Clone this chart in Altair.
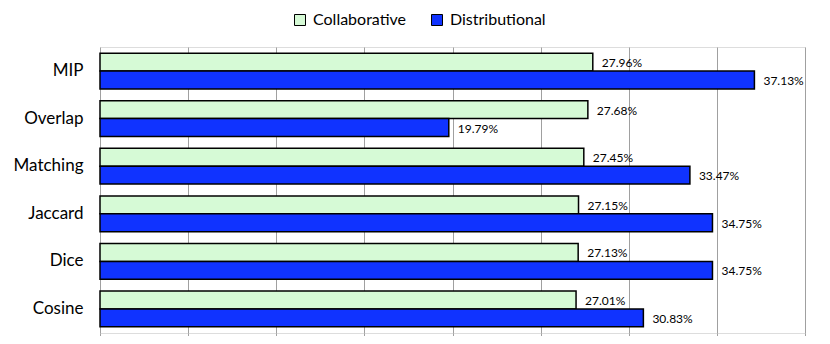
import altair as alt
import pandas as pd

categories = ["MIP", "Overlap", "Matching", "Jaccard", "Dice", "Cosine"]
collaborative = [27.96, 27.68, 27.45, 27.15, 27.13, 27.01]
distributional = [37.13, 19.79, 33.47, 34.75, 34.75, 30.83]
series = ["Collaborative", "Distributional"]
colors = ["#d6fad6", "#1033ff"]

rows = []
for c, a, b in zip(categories, collaborative, distributional):
    rows.append({"cat": c, "series": series[0], "value": a})
    rows.append({"cat": c, "series": series[1], "value": b})
df = pd.DataFrame(rows)

FONT = "Lato"

y_enc = alt.Y("cat:N", sort=categories, title=None,
              scale=alt.Scale(paddingInner=0.25, paddingOuter=0.13),
              axis=alt.Axis(labelFontSize=17, labelFont=FONT, labelColor="black",
                            labelPadding=17, ticks=False, domain=False, grid=False))
yoff = alt.YOffset("series:N", sort=series)

x_enc = alt.X("value:Q", title=None,
              scale=alt.Scale(domain=[0, 40], nice=False),
              axis=alt.Axis(values=[0, 5, 10, 15, 20, 25, 30, 35, 40], labels=False,
                            ticks=True, tickSize=4, tickColor="#a0a0a0",
                            domain=False, grid=True, gridColor="#a0a0a0",
                            gridWidth=1))

bars = alt.Chart(df).mark_bar(stroke="black", strokeWidth=1.5).encode(
    y=y_enc,
    yOffset=yoff,
    x=x_enc,
    color=alt.Color("series:N", sort=series,
                    scale=alt.Scale(domain=series, range=colors),
                    legend=alt.Legend(title=None, orient="none", direction="horizontal",
                                      legendX=192, legendY=-35,
                                      symbolType="square", symbolSize=121,
                                      symbolStrokeColor="black", symbolStrokeWidth=1,
                                      labelFontSize=16, labelFont=FONT, labelColor="black",
                                      labelOffset=5, columnPadding=22, labelLimit=300)),
)

labels = alt.Chart(df).transform_calculate(
    label="format(datum.value, '.2f') + '%'"
).mark_text(align="left", baseline="middle", dx=9, dy=1, fontSize=12,
            font=FONT, color="black").encode(
    y=alt.Y("cat:N", sort=categories),
    yOffset=yoff,
    x=alt.X("value:Q"),
    text="label:N",
)

chart = alt.layer(bars, labels).properties(
    width=705, height=286,
    autosize=alt.AutoSizeParams(type="none"),
    padding={"left": 92, "top": 39, "right": 17, "bottom": 3},
).configure_view(stroke="#a0a0a0", strokeWidth=1.5).configure(background="white")

chart.save("out.html", embed_options={"renderer": "svg", "actions": False})
